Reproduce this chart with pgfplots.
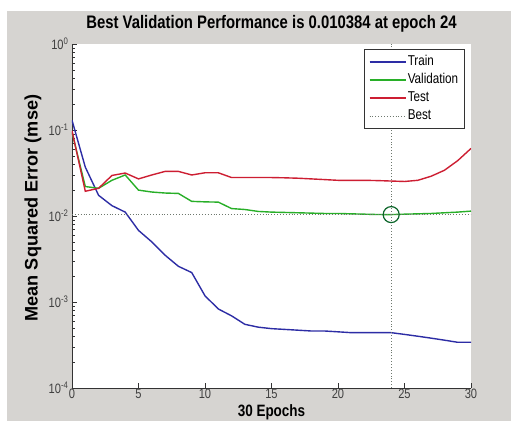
\documentclass[border=0pt]{standalone}
\usepackage{fontspec}
\setmainfont{Liberation Sans}[FakeStretch=0.82]
\newfontfamily\ylabfont{Liberation Sans}
\usepackage{pgfplots}
\pgfplotsset{compat=1.18}
\definecolor{figgray}{RGB}{214,212,209}
\definecolor{trainc}{RGB}{45,45,165}
\definecolor{valc}{RGB}{40,175,40}
\definecolor{testc}{RGB}{205,30,50}
\definecolor{bestc}{RGB}{110,120,110}
\definecolor{circc}{RGB}{10,100,40}
\begin{document}
\begin{tikzpicture}
\useasboundingbox (-72bp,-33bp) rectangle (439bp,388bp);
\fill[white] (-72bp,-33bp) rectangle (439bp,388bp);
\fill[figgray] (-65bp,-40bp) rectangle (439bp,377bp);
\begin{semilogyaxis}[
  at={(0,0)}, anchor=south west,
  scale only axis, width=399bp, height=344bp,
  xmin=0, xmax=30, ymin=1e-4, ymax=1,
  axis x line*=bottom, axis y line*=left,
  axis background/.style={fill=white},
  xtick={0,5,10,15,20,25,30},
  xticklabels={0,5,10,15,20,25,30},
  ytick={1e-4,1e-3,1e-2,1e-1,1},
  yticklabels={10\textsuperscript{-4},10\textsuperscript{-3},10\textsuperscript{-2},10\textsuperscript{-1},10\textsuperscript{0}},
  minor ytick={2e-4,3e-4,4e-4,5e-4,6e-4,7e-4,8e-4,9e-4,2e-3,3e-3,4e-3,5e-3,6e-3,7e-3,8e-3,9e-3,2e-2,3e-2,4e-2,5e-2,6e-2,7e-2,8e-2,9e-2,2e-1,3e-1,4e-1,5e-1,6e-1,7e-1,8e-1,9e-1},
  tick align=inside, major tick length=5bp, minor tick length=3bp,
  tick style={color=black!80, line width=0.6pt},
  axis line style={black!80, line width=0.8pt},
  ticklabel style={font=\fontsize{13.6}{14}\selectfont, color=black!75},
  xticklabel style={inner sep=0pt, yshift=-1bp},
  title={Best Validation Performance is 0.010384 at epoch 24},
  every axis title shift=0pt,
  title style={font=\fontsize{18.2}{19}\selectfont\bfseries, at={(axis description cs:0.5,1.046)}, anchor=base},
  xlabel={30 Epochs},
  xlabel style={font=\fontsize{16.5}{17}\selectfont\bfseries, inner sep=0pt, at={(axis description cs:0.5,-0.0837)}, anchor=base},
  ylabel={Mean Squared Error  (mse)},
  ylabel style={font=\ylabfont\fontsize{18.2}{18}\selectfont\bfseries, at={(axis description cs:-0.0977,0.523)}, anchor=center},
  legend image code/.code={\draw[#1] (0bp,0bp) -- (36bp,0bp);},
  legend cell align=left,
  legend style={at={(axis description cs:0.985,0.985)}, anchor=north east,
    draw=black!80, fill=white, line width=0.6pt, font=\fontsize{14.3}{16}\selectfont,
    inner xsep=5bp, inner ysep=4.5bp,
    row sep=2bp, nodes={inner sep=1.5bp, text height=10bp, text depth=3bp}},
]
\addplot[color=trainc, draw=trainc, line width=1.4pt] coordinates {
(0,0.130) (1,0.037) (2,0.0174) (3,0.0132) (4,0.0111) (5,0.0068) (6,0.0050) (7,0.0035) (8,0.0026) (9,0.0022) (10,0.00118) (11,0.00083) (12,0.00069) (13,0.00055) (14,0.00051) (15,0.00049) (16,0.00048) (17,0.00047) (18,0.00046) (19,0.00046) (20,0.00045) (21,0.00044) (22,0.00044) (23,0.00044) (24,0.00044) (25,0.00042) (26,0.00040) (27,0.00038) (28,0.00036) (29,0.00034) (30,0.00034)};
\addlegendentry{Train}
\addplot[color=valc, draw=valc, line width=1.4pt] coordinates {
(0,0.094) (1,0.022) (2,0.021) (3,0.026) (4,0.030) (5,0.020) (6,0.019) (7,0.0185) (8,0.0183) (9,0.0148) (10,0.0146) (11,0.0145) (12,0.0122) (13,0.0119) (14,0.0113) (15,0.0111) (16,0.0110) (17,0.0109) (18,0.0108) (19,0.0107) (20,0.0107) (21,0.0106) (22,0.0105) (23,0.0104) (24,0.010384) (25,0.0105) (26,0.0106) (27,0.0107) (28,0.0109) (29,0.0111) (30,0.0114)};
\addlegendentry{Validation}
\addplot[color=testc, draw=testc, line width=1.4pt] coordinates {
(0,0.098) (1,0.0194) (2,0.021) (3,0.0296) (4,0.0316) (5,0.027) (6,0.030) (7,0.033) (8,0.033) (9,0.030) (10,0.0318) (11,0.0318) (12,0.028) (13,0.028) (14,0.028) (15,0.028) (16,0.0278) (17,0.0275) (18,0.027) (19,0.0265) (20,0.026) (21,0.026) (22,0.026) (23,0.0258) (24,0.0255) (25,0.0252) (26,0.026) (27,0.029) (28,0.034) (29,0.044) (30,0.061)};
\addlegendentry{Test}
\addplot[color=bestc, draw=bestc, dotted, line width=0.9pt] coordinates {(0,0.010384) (30,0.010384)};
\addlegendentry{Best}
\addplot[color=bestc, draw=bestc, dotted, line width=0.9pt, forget plot] coordinates {(24,1e-4) (24,1)};
\addplot[only marks, mark=o, mark size=8bp, mark options={draw=circc, line width=1.2pt}, forget plot] coordinates {(24,0.010384)};
\end{semilogyaxis}
\end{tikzpicture}
\end{document}
